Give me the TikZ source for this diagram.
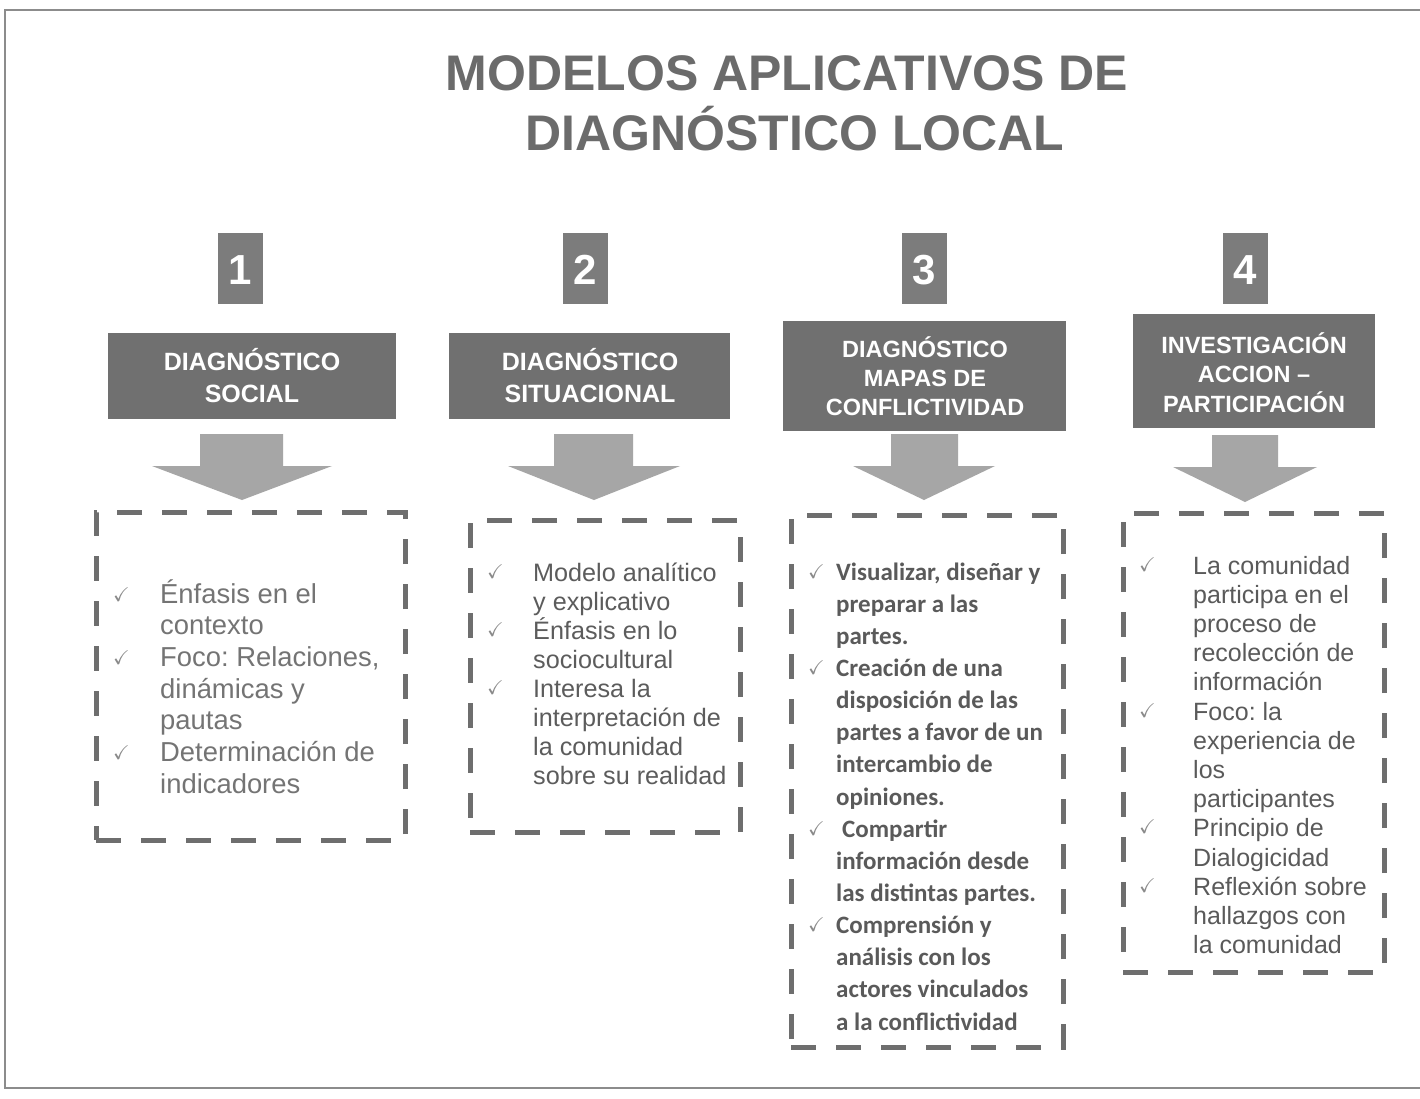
\documentclass[tikz,border=0pt]{standalone}
\usepackage{fontspec}
\setmainfont{Liberation Sans}
\newfontfamily\carl{Carlito}
\usepackage{amssymb}
\frenchspacing
\definecolor{titlec}{HTML}{6B6B6B}
\definecolor{headc}{HTML}{707070}
\definecolor{numc}{HTML}{7C7C7C}
\definecolor{arrowc}{HTML}{A6A6A6}
\definecolor{boxc}{HTML}{6E6E6E}
\definecolor{txtA}{HTML}{747474}
\definecolor{txtB}{HTML}{5C5C5C}
\definecolor{txtC}{HTML}{5A5A5A}
\definecolor{txtD}{HTML}{5A5A5A}
\definecolor{chkc}{HTML}{8A8A8A}
\definecolor{framec}{HTML}{8C8C8C}
\tikzset{
 titlet/.style={anchor=base, inner sep=0pt, text=titlec, font=\bfseries\fontsize{50}{60}\selectfont},
 numbox/.style={fill=numc, minimum width=45pt, minimum height=71pt, inner sep=0pt},
 numtext/.style={anchor=base, inner sep=0pt, text=white, font=\bfseries\fontsize{42}{44}\selectfont},
 headbox/.style={fill=headc, inner sep=0pt},
 headAB/.style={anchor=base, inner sep=0pt, text=white, font=\bfseries\fontsize{25}{30}\selectfont},
 headCD/.style={anchor=base, inner sep=0pt, text=white, font=\bfseries\fontsize{23.5}{28}\selectfont},
 blockarrow/.style={fill=arrowc},
 dbox/.style={draw=boxc, line width=5pt, dash pattern=on 25pt off 20pt, inner sep=0pt},
 chk/.style={anchor=base west, inner sep=0pt, text=chkc, font=\fontsize{20}{20}\selectfont},
 linetext/.style={anchor=base west, inner sep=0pt},
}
\begin{document}
\begin{tikzpicture}[x=1pt,y=-1pt]
\useasboundingbox (0,0) rectangle (1420,1098);
\fill[white] (0,0) rectangle (1420,1098);
\draw[framec, line width=2.5pt] (1422,10) -- (5,10) -- (5,1088) -- (1422,1088);

% title
\node[titlet] (t1) at (787,90) {MODELOS APLICATIVOS DE};
\node[titlet] (t2) at (795,150) {DIAGNÓSTICO LOCAL};

% number boxes
\node[numbox] (n1) at (240.5,268) {};
\node[numbox] (n2) at (585.5,268) {};
\node[numbox] (n3) at (924.5,268) {};
\node[numbox] (n4) at (1245.5,268) {};
\node[numtext] (n1t) at (240.5,284) {1};
\node[numtext] (n2t) at (585.5,284) {2};
\node[numtext] (n3t) at (924.5,284) {3};
\node[numtext] (n4t) at (1245.5,284) {4};

% heading boxes
\node[headbox, minimum width=288pt, minimum height=86pt] (hA) at (252,376) {};
\node[headbox, minimum width=281pt, minimum height=86pt] (hB) at (589.5,376) {};
\node[headbox, minimum width=283pt, minimum height=110pt] (hC) at (924.5,376) {};
\node[headbox, minimum width=242pt, minimum height=114pt] (hD) at (1254,371) {};
\node[headAB] (hA1) at (252,370) {DIAGNÓSTICO};
\node[headAB] (hA2) at (252,402) {SOCIAL};
\node[headAB] (hB1) at (590,370) {DIAGNÓSTICO};
\node[headAB] (hB2) at (590,402) {SITUACIONAL};
\node[headCD] (hC1) at (925,357) {DIAGNÓSTICO};
\node[headCD] (hC2) at (925,386) {MAPAS DE};
\node[headCD] (hC3) at (925,415) {CONFLICTIVIDAD};
\node[headCD] (hD1) at (1254,353) {INVESTIGACIÓN};
\node[headCD] (hD2) at (1254,382) {ACCION –};
\node[headCD] (hD3) at (1254,412) {PARTICIPACIÓN};

% block arrows
\fill[blockarrow] (200,434) -- (283,434) -- (283,466) -- (332,466) -- (242,500) -- (152,466) -- (200,466) -- cycle;
\fill[blockarrow] (554,434) -- (633,434) -- (633,466) -- (680,466) -- (594,500) -- (508,466) -- (554,466) -- cycle;
\fill[blockarrow] (891,434) -- (958,434) -- (958,466) -- (995,466) -- (924,500) -- (853,466) -- (891,466) -- cycle;
\fill[blockarrow] (1212,435) -- (1278,435) -- (1278,467) -- (1317,467) -- (1245,502) -- (1173,467) -- (1212,467) -- cycle;

% dashed boxes
\node[dbox, minimum width=309pt, minimum height=328pt] (b1) at (250.5,676) {};
\node[dbox, minimum width=270pt, minimum height=312pt] (b2) at (605,676) {};
\node[dbox, minimum width=272pt, minimum height=532pt] (b3) at (927,781) {};
\node[dbox, minimum width=261pt, minimum height=459pt] (b4) at (1253.5,742.5) {};

% list 1
\foreach \t [count=\i] in {Énfasis en el, contexto, {Foco: Relaciones,}, dinámicas y, pautas, Determinación de, indicadores}
  \node[linetext, text=txtA, font=\fontsize{27.4}{30}\selectfont] (a\i) at (160,{603+31.7*(\i-1)}) {\t};
\foreach \j in {1,3,6}
  \node[chk] (ac\j) at (113,{601+31.7*(\j-1)}) {$\checkmark$};

% list 2
\foreach \t [count=\i] in {Modelo analítico, y explicativo, Énfasis en lo, sociocultural, Interesa la, interpretación de, la comunidad, sobre su realidad}
  \node[linetext, text=txtB, font=\fontsize{25.2}{28}\selectfont] (bl\i) at (533,{581+29.1*(\i-1)}) {\t};
\foreach \j in {1,3,5}
  \node[chk] (bc\j) at (487,{578+29.1*(\j-1)}) {$\checkmark$};

% list 3
\foreach \t [count=\i] in {{Visualizar, diseñar y}, preparar a las, partes., Creación de una, disposición de las, partes a favor de un, intercambio de, opiniones., \hspace*{6pt}Compartir, información desde, las distintas partes., Comprensión y, análisis con los, actores vinculados, a la conflictividad}
  \node[linetext, text=txtC, font=\carl\bfseries\fontsize{25}{28}\selectfont] (cl\i) at (836,{580+32.15*(\i-1)}) {\t};
\foreach \j in {1,4,9,12}
  \node[chk] (cc\j) at (808,{578+32.15*(\j-1)}) {$\checkmark$};

% list 4
\foreach \t [count=\i] in {La comunidad, participa en el, proceso de, recolección de, información, Foco: la, experiencia de, los, participantes, Principio de, Dialogicidad, Reflexión sobre, hallazgos con, la comunidad}
  \node[linetext, text=txtD, font=\fontsize{25}{28}\selectfont] (dl\i) at (1193,{574+29.2*(\i-1)}) {\t};
\foreach \j in {1,6,10,12}
  \node[chk] (dc\j) at (1139,{571+29.2*(\j-1)}) {$\checkmark$};
\end{tikzpicture}
\end{document}
